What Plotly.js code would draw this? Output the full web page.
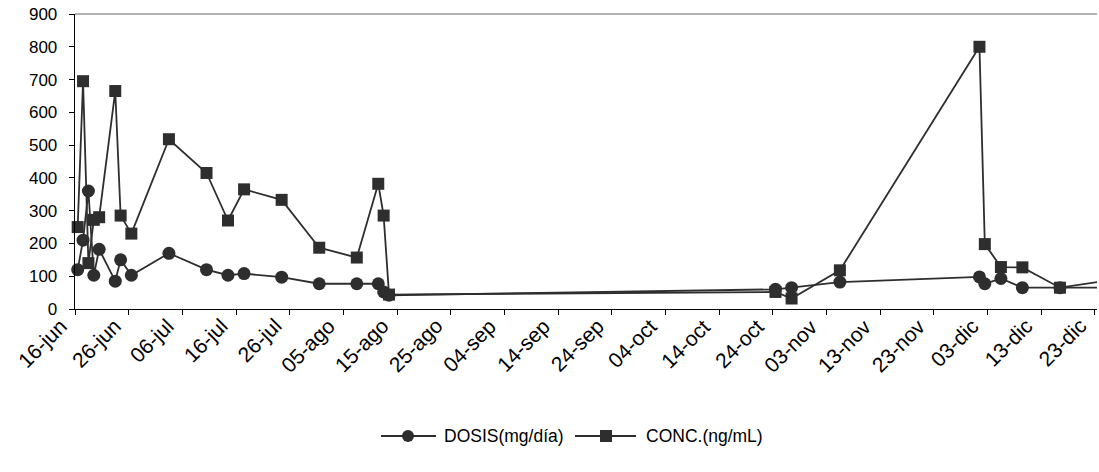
<!DOCTYPE html>
<html>
<head>
<meta charset="utf-8">
<script src="https://cdn.plot.ly/plotly-3.0.1.min.js"></script>
<style>html,body{margin:0;padding:0;background:#fff;}#chart{width:1099px;height:472px;}</style>
</head>
<body>
<div id="chart"></div>
<script>
// Sample dates (year arbitrary)
const dates = ['2005-06-16','2005-06-17','2005-06-18','2005-06-19','2005-06-20','2005-06-23','2005-06-24','2005-06-26',
  '2005-07-03','2005-07-10','2005-07-14','2005-07-17','2005-07-24','2005-07-31','2005-08-07','2005-08-11','2005-08-12','2005-08-13',
  '2005-10-24','2005-10-27','2005-11-05','2005-12-01','2005-12-02','2005-12-05','2005-12-09','2005-12-16','2005-12-23'];
const dosis = [120,210,360,103,182,85,150,103,170,120,103,108,97,77,77,77,52,42,60,65,82,98,77,93,65,65,65];
const conc  = [250,695,140,272,280,665,285,230,518,415,270,365,333,187,157,382,285,44,52,32,118,800,198,128,127,65,82];
const tickLabels = ['16-jun','26-jun','06-jul','16-jul','26-jul','05-ago','15-ago','25-ago','04-sep','14-sep',
  '24-sep','04-oct','14-oct','24-oct','03-nov','13-nov','23-nov','03-dic','13-dic','23-dic'];
const names = ['DOSIS(mg/día)','CONC.(ng/mL)'];

const DAY = 86400000;
const start = Date.UTC(2005,5,16);
function fmt(ms){ const d=new Date(ms); return d.toISOString().slice(0,19).replace('T',' '); }
const tickVals = tickLabels.map((_,i)=>fmt(start + i*10*DAY));
// Excel date axis places each day's point in the middle of its day slot
const xs = dates.map(d => d + ' 12:00');
const xRange = [fmt(start), fmt(start + 190.4*DAY)];

const W = 1099, H = 472;
const col = '#2e2e2e';
const fam = '"Liberation Sans", Arial, sans-serif';
const font = {family:fam, size:17, color:'#000'};
const xfont = {family:fam, size:21, color:'#000'};

const traces = [
  {x:xs, y:dosis, name:names[0], type:'scatter', mode:'lines+markers', cliponaxis:false, showlegend:false,
   line:{color:col, width:1.8}, marker:{symbol:'circle', size:13, color:col}},
  {x:xs, y:conc, name:names[1], type:'scatter', mode:'lines+markers', cliponaxis:false, showlegend:false,
   line:{color:col, width:1.8}, marker:{symbol:'square', size:12, color:col}}
];

const margin = {l:75, r:2, t:14, b:163};
const pw = W - margin.l - margin.r, ph = H - margin.t - margin.b;
const px = x => (x - margin.l) / pw;
const py = y => (H - margin.b - y) / ph;

const shapes = [{type:'line', xref:'paper', yref:'paper', x0:0, x1:1, y0:1, y1:1, line:{color:'#999', width:1.5}}];
const annotations = [];

// Rotated x tick labels, ending a little left of their tick marks (as in the Excel original)
tickLabels.forEach((t,i) => {
  annotations.push({xref:'x', yref:'paper', x:tickVals[i], y:py(313), xanchor:'right', yanchor:'top', xshift:-3,
    textangle:-45, showarrow:false, text:t, font:xfont, borderpad:0});
});

// Custom legend (Excel-style: long line with marker in the middle)
const legY = 436;
const leg = [
  {x0:381, x1:436, mx:408, sym:'circle', tx:442, text:names[0]},
  {x0:575, x1:636, mx:606, sym:'square', tx:644, text:names[1]}
];
leg.forEach(l => {
  shapes.push({type:'line', xref:'paper', yref:'paper', x0:px(l.x0), x1:px(l.x1), y0:py(legY), y1:py(legY), line:{color:col, width:1.8}});
  shapes.push({type: l.sym==='circle' ? 'circle' : 'rect', xref:'paper', yref:'paper', xsizemode:'pixel', ysizemode:'pixel',
    xanchor:px(l.mx), yanchor:py(legY), x0:-6, x1:6, y0:-6, y1:6, fillcolor:col, line:{color:col, width:0}});
  annotations.push({xref:'paper', yref:'paper', x:px(l.tx), y:py(legY), xanchor:'left', yanchor:'middle', showarrow:false,
    text:l.text, font:{family:fam, size:17.5, color:'#000'}});
});

const layout = {
  width:W, height:H,
  margin:margin,
  paper_bgcolor:'#fff', plot_bgcolor:'#fff',
  font:font,
  showlegend:false,
  xaxis:{type:'date', range:xRange, tickmode:'array', tickvals:tickVals, showticklabels:false,
    ticks:'outside', ticklen:5, tickcolor:'#000', showline:true, linecolor:'#000', linewidth:1.3,
    showgrid:false, zeroline:false},
  yaxis:{range:[0,900], dtick:100, tick0:0, ticks:'outside', ticklen:5, tickcolor:'#000', showline:true, linecolor:'#000', linewidth:1.3,
    showgrid:false, zeroline:false, tickfont:font, ticklabelstandoff:8},
  shapes:shapes,
  annotations:annotations
};

Plotly.newPlot('chart', traces, layout, {staticPlot:true, displayModeBar:false});
</script>
</body>
</html>
